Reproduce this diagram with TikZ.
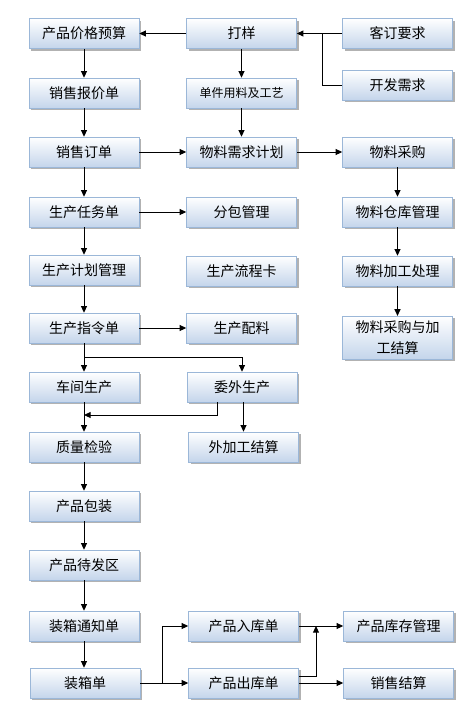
\documentclass[tikz,border=0pt]{standalone}
\usepackage{fontspec}
\newfontfamily\cjk{Noto Sans CJK SC}
\usepackage{tikz}
\usetikzlibrary{arrows.meta,positioning,shadows}
\definecolor{boxline}{RGB}{155,183,216}
\definecolor{boxblue}{RGB}{196,213,235}

\begin{document}
\begin{tikzpicture}[x=0.75pt,y=-0.75pt,
    box/.style={draw=boxline, top color=white, bottom color=boxblue,
      minimum width=82.5pt, minimum height=22.5pt, inner sep=1pt,
      font=\cjk\fontsize{10.5pt}{13pt}\selectfont,
      drop shadow={shadow xshift=1.5pt, shadow yshift=-1.5pt, fill=black!30, opacity=1}},
    arr/.style={-{Triangle[length=5pt,width=4.5pt]}, black, line width=0.75pt},
    ln/.style={black, line width=0.75pt}]
    \useasboundingbox (0,0) rectangle (474,718);

    % column 1
    \node[box] (yusuan) at (84,33.5) {产品价格预算};
    \node[box] (baojia) at (84,93) {销售报价单};
    \node[box] (dingdan) at (84,152) {销售订单};
    \node[box] (renwu) at (84,212) {生产任务单};
    \node[box] (jihua) at (84,270) {生产计划管理};
    \node[box] (zhiling) at (84,328) {生产指令单};
    \node[box] (chejian) at (84,387) {车间生产};
    \node[box] (jianyan) at (84,447) {质量检验};
    \node[box] (baozhuang) at (84,506) {产品包装};
    \node[box] (daifa) at (84,565) {产品待发区};
    \node[box] (tongzhi) at (84,626) {装箱通知单};
    \node[box] (zhuangxiang) at (85,683) {装箱单};

    % column 2
    \node[box] (dayang) at (241.5,33.5) {打样};
    \node[box, font=\cjk\fontsize{9pt}{11pt}\selectfont] (yongliao) at (241.5,93) {单件用料及工艺};
    \node[box] (xuqiu) at (241.5,152) {物料需求计划};
    \node[box] (fenbao) at (241.5,212) {分包管理};
    \node[box] (liucheng) at (241.5,271) {生产流程卡};
    \node[box] (peiliao) at (241.5,328) {生产配料};
    \node[box] (weiwai) at (242,387) {委外生产};
    \node[box] (waijiagong) at (243.5,447) {外加工结算};
    \node[box] (ruku) at (243.5,626) {产品入库单};
    \node[box] (chuku) at (243.5,683) {产品出库单};

    % column 3
    \node[box] (keding) at (397.5,33.5) {客订要求};
    \node[box] (kaifa) at (397.5,85) {开发需求};
    \node[box] (caigou) at (397.5,152) {物料采购};
    \node[box] (cangku) at (397.5,212) {物料仓库管理};
    \node[box] (jiagong) at (397.5,271) {物料加工处理};
    \node[box, minimum height=32pt, align=center,
      font=\cjk\fontsize{10.5pt}{16pt}\selectfont] (jiesuan) at (397.5,337.5) {物料采购与加\\工结算};
    \node[box] (kucun) at (398.5,626) {产品库存管理};
    \node[box] (xiaoshou) at (398.5,683) {销售结算};

    % junctions
    \coordinate (j1) at (322,33.5);
    \coordinate (j2) at (84,357);
    \coordinate (j3) at (84,415);
    \coordinate (j4) at (162,683);
    \coordinate (j5) at (316,626);

    % top row
    \draw[arr] (dayang) -- (yusuan);
    \draw[arr] (keding) -- (dayang);
    \draw[ln] (kaifa.west) -| (j1);

    % main chain
    \draw[arr] (yusuan) -- (baojia);
    \draw[arr] (baojia) -- (dingdan);
    \draw[arr] (dingdan) -- (renwu);
    \draw[arr] (renwu) -- (jihua);
    \draw[arr] (jihua) -- (zhiling);
    \draw[arr] (zhiling) -- (chejian);
    \draw[arr] (chejian) -- (jianyan);
    \draw[arr] (jianyan) -- (baozhuang);
    \draw[arr] (baozhuang) -- (daifa);
    \draw[arr] (daifa) -- (tongzhi);
    \draw[arr] (tongzhi.south) -- (tongzhi.south |- zhuangxiang.north);

    % material side
    \draw[arr] (dayang) -- (yongliao);
    \draw[arr] (yongliao) -- (xuqiu);
    \draw[arr] (dingdan) -- (xuqiu);
    \draw[arr] (xuqiu) -- (caigou);
    \draw[arr] (caigou) -- (cangku);
    \draw[arr] (cangku) -- (jiagong);
    \draw[arr] (jiagong) -- (jiesuan);

    % production side
    \draw[arr] (renwu) -- (fenbao);
    \draw[arr] (zhiling) -- (peiliao);
    \draw[arr] (j2) -| (weiwai.north);
    \draw[arr] ([xshift=-18.75pt]weiwai.south) |- (j3);
    \draw[arr] (weiwai.south -| waijiagong.north) -- (waijiagong.north);

    % shipping
    \draw[ln] (zhuangxiang.east) -- (j4);
    \draw[arr] (j4) |- (ruku.west);
    \draw[arr] (j4) -- (chuku.west);
    \draw[arr] (ruku) -- (kucun);
    \draw[arr] ([yshift=5.25pt]chuku.east) -| (j5);
    \draw[arr] (chuku) -- (xiaoshou);
  \end{tikzpicture}
\end{document}
